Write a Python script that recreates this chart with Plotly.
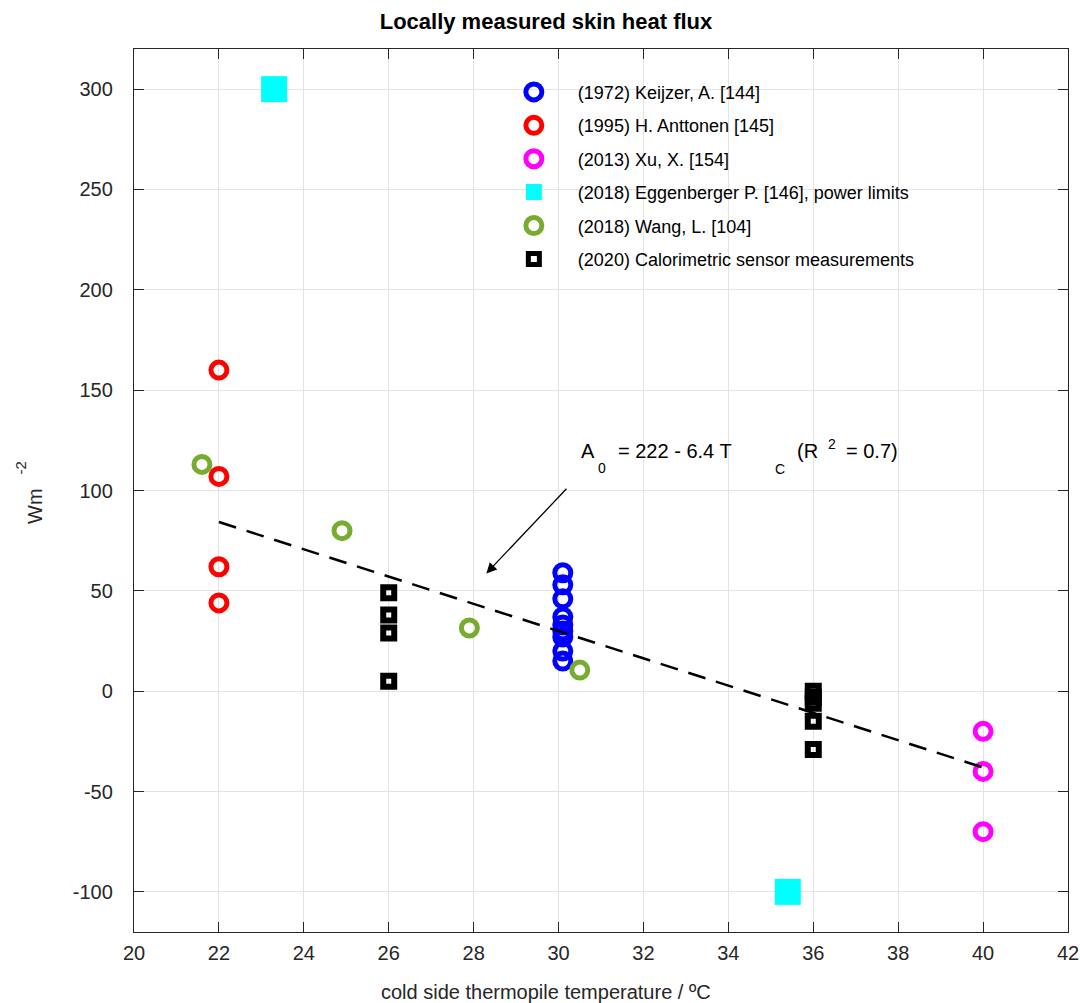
import plotly.graph_objects as go

# ---- data ----
keijzer_x = [30.1] * 9
keijzer_y = [59, 53, 46, 37, 33, 30, 27, 20, 15]

anttonen_x = [22, 22, 22, 22]
anttonen_y = [160, 107, 62, 44]

xu_x = [40, 40, 40]
xu_y = [-20, -40, -70]

egg_x = [23.3, 35.4]
egg_y = [300, -100]

wang_x = [21.6, 24.9, 27.9, 30.5]
wang_y = [113, 80, 31.5, 10.5]

calor_x = [26, 26, 26, 26, 36, 36, 36, 36, 36]
calor_y = [49, 38, 29, 5, 0, -3, -6, -15, -29]

fit_x = [22, 40]
fit_y = [84.3, -38.0]

x_ticks = list(range(20, 43, 2))
x_tick_labels = [str(v) for v in x_ticks]
y_ticks = [-100, -50, 0, 50, 100, 150, 200, 250, 300]
y_tick_labels = ["-100", "-50", "0", "50", "100", "150", "200", "250", "300"]

FONT = "Liberation Sans, Arial, sans-serif"
AX = "#262626"

fig = go.Figure()

def ring(x, y, name, color):
    fig.add_trace(go.Scatter(
        x=x, y=y, mode="markers", name=name, legendgroup=name,
        marker=dict(symbol="circle-open", size=16, color=color,
                    line=dict(width=5, color=color))))

ring(keijzer_x, keijzer_y, "(1972) Keijzer, A. [144]", "#0000ff")
ring(anttonen_x, anttonen_y, "(1995) H. Anttonen [145]", "#ff0000")
ring(xu_x, xu_y, "(2013) Xu, X. [154]", "#ff00ff")
fig.add_trace(go.Scatter(
    x=egg_x, y=egg_y, mode="markers",
    name="(2018) Eggenberger P. [146], power limits",
    legendgroup="egg",
    marker=dict(symbol="square", size=26, color="#00ffff", line=dict(width=0))))
ring(wang_x, wang_y, "(2018) Wang, L. [104]", "#77ac30")
fig.add_trace(go.Scatter(
    x=calor_x, y=calor_y, mode="markers",
    name="(2020) Calorimetric sensor measurements",
    legendgroup="cal",
    marker=dict(symbol="square-open", size=11, color="#000000",
                line=dict(width=6, color="#000000"))))
fig.add_trace(go.Scatter(
    x=fit_x, y=fit_y, mode="lines", showlegend=False,
    line=dict(color="#000000", width=2.5, dash="18px,11px")))

# equation annotation pieces
eq_parts = [
    ("A", 30.48, 119.5, 20),
    ("0", 30.88, 111.0, 14),
    ("= 222 - 6.4 T", 31.35, 119.5, 20),
    ("C", 35.04, 110.5, 14),
    ("(R", 35.57, 119.5, 20),
    ("2", 36.29, 123.0, 14),
    ("= 0.7)", 36.73, 119.5, 20),
]
for txt, xx, yy, fs in eq_parts:
    fig.add_annotation(x=xx, y=yy, xref="x", yref="y", text=txt,
                       showarrow=False, xanchor="left", yanchor="middle",
                       font=dict(family=FONT, size=fs, color="#000000"))

# arrow
fig.add_annotation(x=28.30, y=58.7, ax=30.22, ay=101.6,
                   xref="x", yref="y", axref="x", ayref="y",
                   text="", showarrow=True, arrowhead=2, arrowsize=1.6,
                   arrowwidth=1.3, arrowcolor="#000000")

W, H = 1080, 1003
L, T, R, B = 134, 49, 12, 71
pw, ph = W - L - R, H - T - B

def px_to_paper(px, py):
    return (px - L) / pw, (H - B - py) / ph

# y label (Wm^-2)
lx, ly = px_to_paper(35, 506)
fig.add_annotation(x=lx, y=ly, xref="paper", yref="paper", text="Wm",
                   showarrow=False, textangle=-90, xanchor="center", yanchor="middle",
                   font=dict(family=FONT, size=20, color=AX))
sx, sy = px_to_paper(19.5, 468)
fig.add_annotation(x=sx, y=sy, xref="paper", yref="paper", text="-2",
                   showarrow=False, textangle=-90, xanchor="center", yanchor="middle",
                   font=dict(family=FONT, size=15, color=AX))

# x label
xx_, xy_ = px_to_paper(546, 992)
fig.add_annotation(x=xx_, y=xy_, xref="paper", yref="paper",
                   text="cold side thermopile temperature / ºC", showarrow=False,
                   xanchor="center", yanchor="middle",
                   font=dict(family=FONT, size=20, color=AX))

fig.update_layout(
    width=W, height=H,
    margin=dict(l=L, r=R, t=T, b=B, autoexpand=False),
    paper_bgcolor="white", plot_bgcolor="white",
    font=dict(family=FONT, size=20, color=AX),
    title=dict(text="<b>Locally measured skin heat flux</b>",
               x=546 / W, xref="container", xanchor="center",
               y=1 - 21 / H, yref="container", yanchor="middle",
               font=dict(family=FONT, size=22, color="#000000")),
    legend=dict(x=0.381, y=0.972, xanchor="left", yanchor="top",
                bgcolor="rgba(0,0,0,0)", borderwidth=0,
                font=dict(family=FONT, size=18, color="#000000"),
                itemwidth=78, tracegroupgap=7),
    showlegend=True,
)

axis_common = dict(
    showline=True, linecolor=AX, linewidth=1.3, mirror="ticks",
    ticks="inside", ticklen=10, tickwidth=1.3, tickcolor=AX,
    showgrid=True, gridcolor="#e3e3e3", gridwidth=1,
    zeroline=False, automargin=False, ticklabeloverflow="allow",
    tickfont=dict(family=FONT, size=20, color=AX),
)
fig.update_xaxes(range=[20, 42], tickmode="array", tickvals=x_ticks,
                 ticktext=x_tick_labels, ticklabelstandoff=3, **axis_common)
fig.update_yaxes(range=[-120, 320], tickmode="array", tickvals=y_ticks,
                 ticktext=y_tick_labels, ticklabelstandoff=16, **axis_common)

# remove the browser's default 8px page margin so the figure fills the window
fig.write_html(
    "out.html",
    config={"displayModeBar": False},
    post_script="document.body.style.margin='0';document.body.style.overflow='hidden';",
)
